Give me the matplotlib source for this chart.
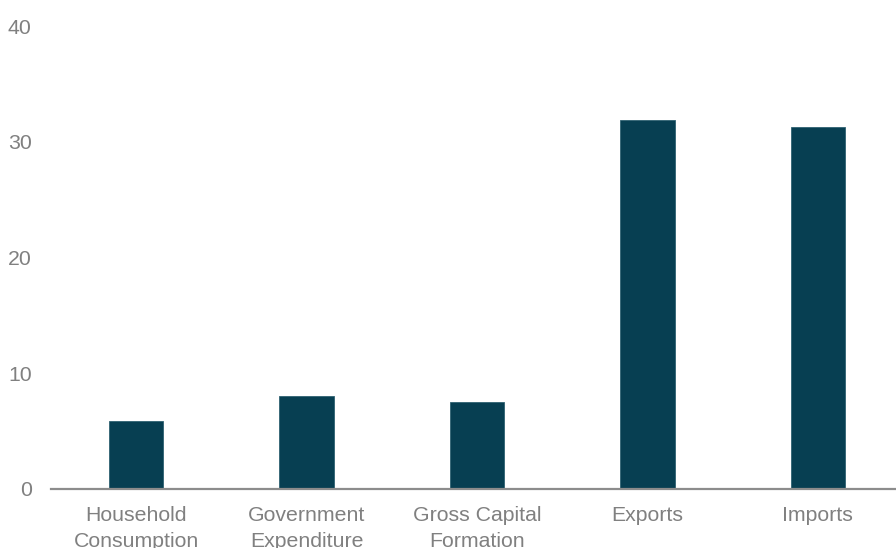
import matplotlib
matplotlib.use('Agg')
import matplotlib.pyplot as plt

# data
categories = ['Household\nConsumption', 'Government\nExpenditure', 'Gross Capital\nFormation',
              'Exports', 'Imports']
values = [5.9, 8.05, 7.55, 31.9, 31.3]
y_ticks = [0, 10, 20, 30, 40]

bar_color = '#073f52'
text_color = '#808080'
axis_color = '#8c8c8c'

plt.rcParams['font.family'] = ['Liberation Sans', 'DejaVu Sans']

fig = plt.figure(figsize=(8.96, 5.48), dpi=100)
# axes run a bit past the right edge, like the original
ax = fig.add_axes([51 / 896, 59 / 548, 852 / 896, 463 / 548])

x = range(len(categories))
ax.bar(x, values, width=0.32, color=bar_color, edgecolor='#2f6272', linewidth=0.6, zorder=2)

ax.set_xlim(-0.5, 4.5)
ax.set_ylim(0, 40)
ax.set_yticks(y_ticks)
ax.set_xticks(list(x))
ax.set_xticklabels(categories, linespacing=1.45)

for side in ['top', 'right', 'left']:
    ax.spines[side].set_visible(False)
ax.spines['bottom'].set_color(axis_color)
ax.spines['bottom'].set_linewidth(1.6)

ax.tick_params(axis='both', length=0, labelsize=15.3, labelcolor=text_color)
ax.tick_params(axis='y', pad=14)
ax.tick_params(axis='x', pad=12.5)

fig.savefig('out.png', dpi=100, facecolor='white')
